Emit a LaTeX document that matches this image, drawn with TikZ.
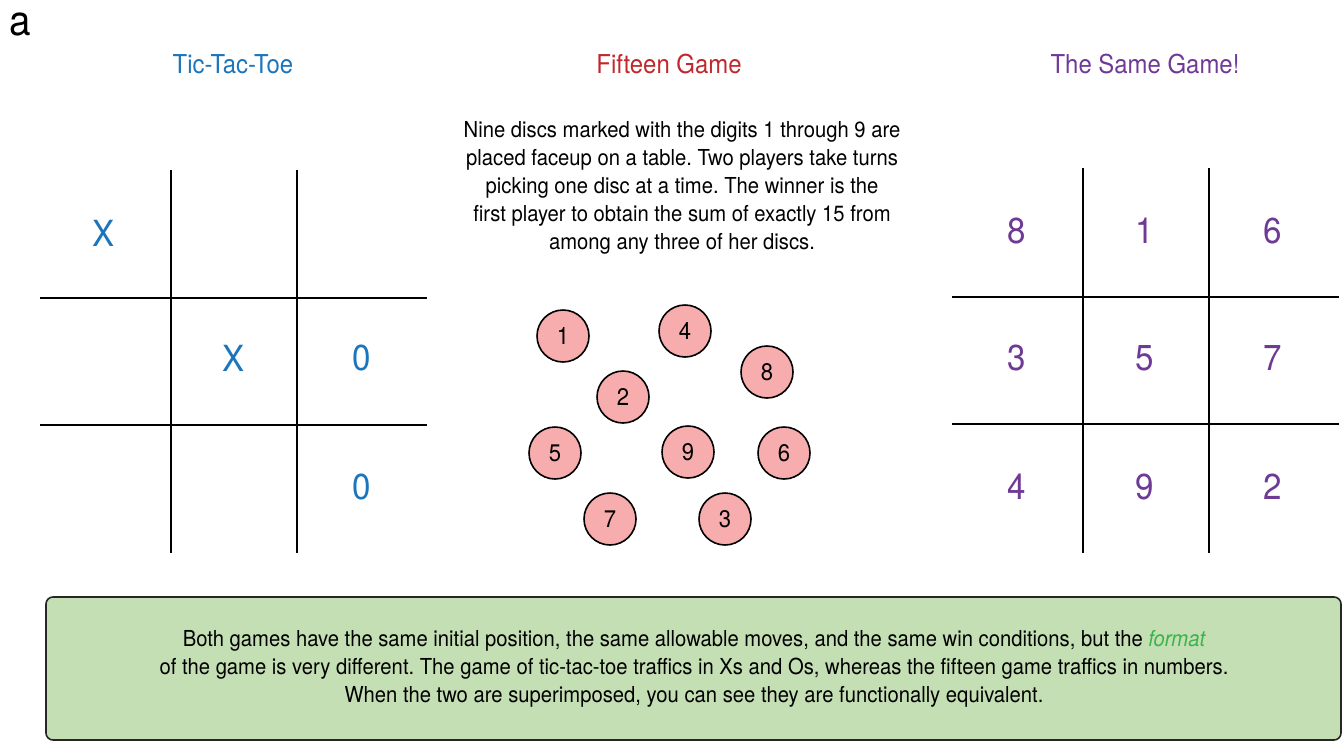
\documentclass[tikz,border=0pt]{standalone}
\usepackage{fontspec}
\setmainfont{TeX Gyre Heros}[FakeStretch=0.92]
\definecolor{tttblue}{HTML}{1B75BC}
\definecolor{fifred}{HTML}{C1272D}
\definecolor{samepurple}{HTML}{6F3996}
\definecolor{discpink}{HTML}{F7ADAE}
\definecolor{boxgreen}{HTML}{C5DFB4}
\definecolor{fmtgreen}{HTML}{39B54A}
\tikzset{
  gridline/.style={line width=2pt, black},
  gtitle/.style={font=\fontsize{26}{30}\selectfont, anchor=center},
  cellmark/.style={font=\fontsize{36}{40}\selectfont, anchor=center},
  disc/.style={circle, draw=black, line width=1.6pt, fill=discpink, minimum size=52pt, inner sep=0pt, font=\fontsize{24}{26}\selectfont},
  body/.style={font=\fontsize{22}{28}\selectfont, align=center}
}
\begin{document}
\frenchspacing
\begin{tikzpicture}[x=1pt,y=-1pt]
\useasboundingbox (0,0) rectangle (1344,742);
% panel label
\node[font=\fontsize{42}{44}\selectfont, anchor=base west, inner sep=0pt] (lbl) at (9,35) {a};
% titles
\node[gtitle, text=tttblue] (t1) at (233,64) {Tic-Tac-Toe};
\node[gtitle, text=fifred] (t2) at (669,64) {Fifteen Game};
\node[gtitle, text=samepurple] (t3) at (1145,64) {The Same Game!};
% tic-tac-toe grid
\draw[gridline] (171,170) -- (171,553);
\draw[gridline] (297,170) -- (297,553);
\draw[gridline] (40,298) -- (427,298);
\draw[gridline] (40,425) -- (427,425);
\node[cellmark, text=tttblue] (x1) at (104,233) {X};
\node[cellmark, text=tttblue] (x2) at (234,358) {X};
\node[cellmark, text=tttblue] (o1) at (362,358) {0};
\node[cellmark, text=tttblue] (o2) at (362,487) {0};
% fifteen game text
\node[body] (desc) at (682,188) {Nine discs marked with the digits 1 through 9 are\\placed faceup on a table. Two players take turns\\picking one disc at a time. The winner is the\\first player to obtain the sum of exactly 15 from\\among any three of her discs.};
% discs
\node[disc] (d1) at (563,336) {1};
\node[disc] (d4) at (685,331) {4};
\node[disc] (d8) at (767,372) {8};
\node[disc] (d2) at (623,397) {2};
\node[disc] (d5) at (555,453) {5};
\node[disc] (d9) at (688,452) {9};
\node[disc] (d6) at (784,453) {6};
\node[disc] (d7) at (610,519) {7};
\node[disc] (d3) at (725,519) {3};
% magic square grid
\draw[gridline] (1083,168) -- (1083,553);
\draw[gridline] (1209,168) -- (1209,553);
\draw[gridline] (952,297) -- (1339,297);
\draw[gridline] (952,424) -- (1339,424);
\node[cellmark, text=samepurple] (m8) at (1017,231) {8};
\node[cellmark, text=samepurple] (m1) at (1145,231) {1};
\node[cellmark, text=samepurple] (m6) at (1273,231) {6};
\node[cellmark, text=samepurple] (m3) at (1017,358) {3};
\node[cellmark, text=samepurple] (m5) at (1145,358) {5};
\node[cellmark, text=samepurple] (m7) at (1273,358) {7};
\node[cellmark, text=samepurple] (m4) at (1017,487) {4};
\node[cellmark, text=samepurple] (m9) at (1145,487) {9};
\node[cellmark, text=samepurple] (m2) at (1273,487) {2};
% bottom box
\draw[line width=1.6pt, draw=black!85, fill=boxgreen, rounded corners=7pt] (46,597) rectangle (1341,740);
\node[body] (note) at (694,669) {Both games have the same initial position, the same allowable moves, and the same win conditions, but the \textcolor{fmtgreen}{\itshape format}\\of the game is very different. The game of tic-tac-toe traffics in Xs and Os, whereas the fifteen game traffics in numbers.\\When the two are superimposed, you can see they are functionally equivalent.};
\end{tikzpicture}
\end{document}
